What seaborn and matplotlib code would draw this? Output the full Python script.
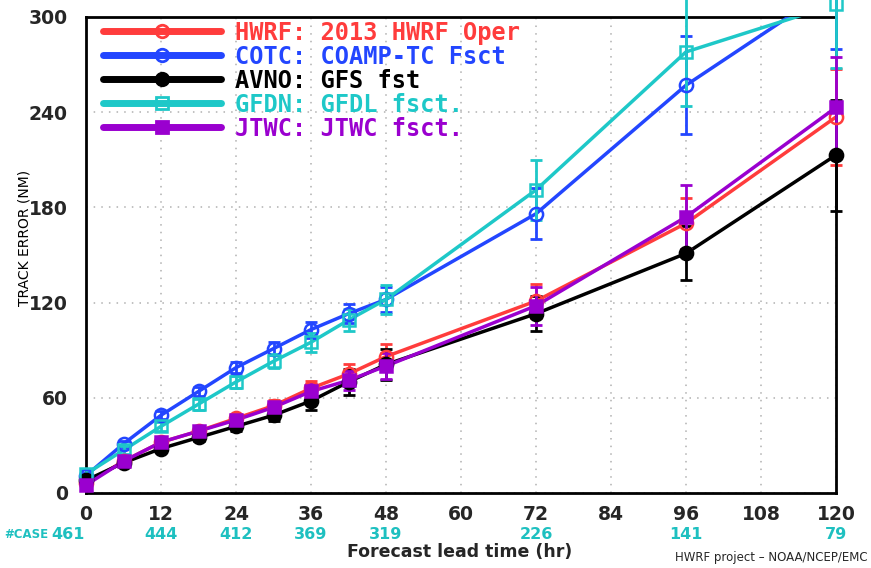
import matplotlib
matplotlib.use("Agg")
import matplotlib.pyplot as plt
import seaborn as sns
import pandas as pd
from matplotlib.lines import Line2D

# ---- data ----
hours = [0, 6, 12, 18, 24, 30, 36, 42, 48, 72, 96, 120]
hwrf = [6, 20, 32, 39, 47, 55, 66, 75, 86, 121, 170, 237]
cotc = [11, 31, 49, 64, 79, 91, 103, 113, 122, 176, 257, 320]
avno = [8, 19, 28, 35, 42, 49, 58, 70, 81, 113, 151, 213]
gfdn = [12, 27, 42, 56, 70, 83, 95, 109, 122, 191, 278, 308]
jtwc = [5, 20, 32, 39, 46, 54, 64, 71, 80, 118, 174, 243]

hwrf_err = [1, 1.5, 2, 2.5, 3, 3.5, 4.5, 6, 8, 11, 16, 30]
cotc_err = [1.5, 2, 2.5, 3, 3.5, 4, 5, 6, 8, 16, 31, 40]
avno_err = [1, 1.5, 2, 2.5, 3, 3.5, 5.5, 8, 10, 11, 17, 35]
gfdn_err = [3, 2.5, 3, 3.5, 4, 4.5, 6, 7, 9, 19, 34, 40]
jtwc_err = [1, 1.5, 2, 2.5, 3, 3.5, 4.5, 6, 8, 12, 20, 32]

series_labels = ["HWRF: 2013 HWRF Oper", "COTC: COAMP-TC Fsct", "AVNO: GFS fst",
                 "GFDN: GFDL fsct.", "JTWC: JTWC fsct."]
case_hours = [0, 12, 24, 36, 48, 72, 96, 120]
case_counts = ["461", "444", "412", "369", "319", "226", "141", "79"]
x_ticks = [0, 12, 24, 36, 48, 60, 72, 84, 96, 108, 120]
y_ticks = [0, 60, 120, 180, 240, 300]

colors = ["#FF3C3C", "#2346FF", "#000000", "#1EC8C8", "#9A00CF"]
markers = ["o", "o", "o", "s", "s"]
filled = [False, False, True, False, True]

values = [hwrf, cotc, avno, gfdn, jtwc]
errors = [hwrf_err, cotc_err, avno_err, gfdn_err, jtwc_err]

sns.set_theme(style="white")
plt.rcParams["font.family"] = ["DejaVu Sans"]

fig = plt.figure(figsize=(8.71, 5.68), dpi=100)
ax = fig.add_axes([86 / 871, 1 - 493 / 568, 750 / 871, 476 / 568])

for lab, vals, errs, c, m, f in zip(series_labels, values, errors, colors, markers, filled):
    df = pd.DataFrame({"hr": hours, "err": vals})
    sns.lineplot(data=df, x="hr", y="err", color=c, lw=2.5, ax=ax, zorder=3)
    ax.errorbar(hours, vals, yerr=errs, fmt="none", ecolor=c, elinewidth=2.0,
                capsize=4.5, capthick=2.0, clip_on=False, zorder=4)
    ax.plot(hours, vals, linestyle="none", marker=m, markersize=(9.5 if m == "o" else 9),
            markerfacecolor=(c if f else "none"), markeredgecolor=c,
            markeredgewidth=1.8, clip_on=False, zorder=5)

ax.set_xlim(0, 120)
ax.set_ylim(0, 300)
ax.set_xticks(x_ticks)
ax.set_yticks(y_ticks)
tick_font = {"weight": "bold", "size": 13.5}
ax.set_xticklabels([str(t) for t in x_ticks], fontdict=tick_font)
ax.set_yticklabels([str(t) for t in y_ticks], fontdict=tick_font)
ax.tick_params(axis="both", direction="out", length=7, width=2, color="black")
ax.tick_params(axis="x", pad=1.5)
ax.tick_params(axis="y", pad=6)
ax.grid(True, linestyle=(0, (1, 4)), color="#b0b0b0", linewidth=1.1)
for s in ax.spines.values():
    s.set_color("black")
    s.set_linewidth(2)
    s.set_visible(True)
ax.set_xlabel("")
ax.set_ylabel("")

# legend
handles = []
for c, m, f in zip(colors, markers, filled):
    handles.append(Line2D([0], [0], color=c, lw=5, marker=m, markersize=9,
                          markerfacecolor=(c if f else "none"), markeredgecolor=c,
                          markeredgewidth=2))
leg = ax.legend(handles, series_labels, loc="upper left", frameon=False,
                bbox_to_anchor=(0.0, 1.027), handlelength=5.0, handletextpad=0.6,
                labelspacing=0.0, borderaxespad=0.3,
                prop={"family": "DejaVu Sans Mono", "weight": "bold", "size": 17})
for t, c in zip(leg.get_texts(), colors):
    t.set_color(c)

# y label
fig.text(24 / 871, 1 - 238 / 568, "TRACK ERROR (NM)", rotation=90, fontsize=10,
         ha="center", va="center", color="black")

# case counts
case_color = "#1EC0C0"
for h, n in zip(case_hours, case_counts):
    ax.text(h if h > 0 else -0.2, -0.087, n, transform=ax.get_xaxis_transform(),
            ha=("center" if h > 0 else "right"), va="center", color=case_color,
            clip_on=False, fontsize=11.5, fontweight="bold")
fig.text(4 / 871, 1 - 534 / 568, "#CASE", ha="left", va="center", color=case_color,
         fontsize=8.5, fontweight="bold")

fig.text(460 / 871, 1 - 552 / 568, "Forecast lead time (hr)", ha="center",
         va="center", fontsize=12.5, fontweight="bold")
fig.text(868 / 871, 1 - 557 / 568, "HWRF project \u2013 NOAA/NCEP/EMC", ha="right",
         va="center", fontsize=8.5)

fig.savefig("out.png", dpi=100)
